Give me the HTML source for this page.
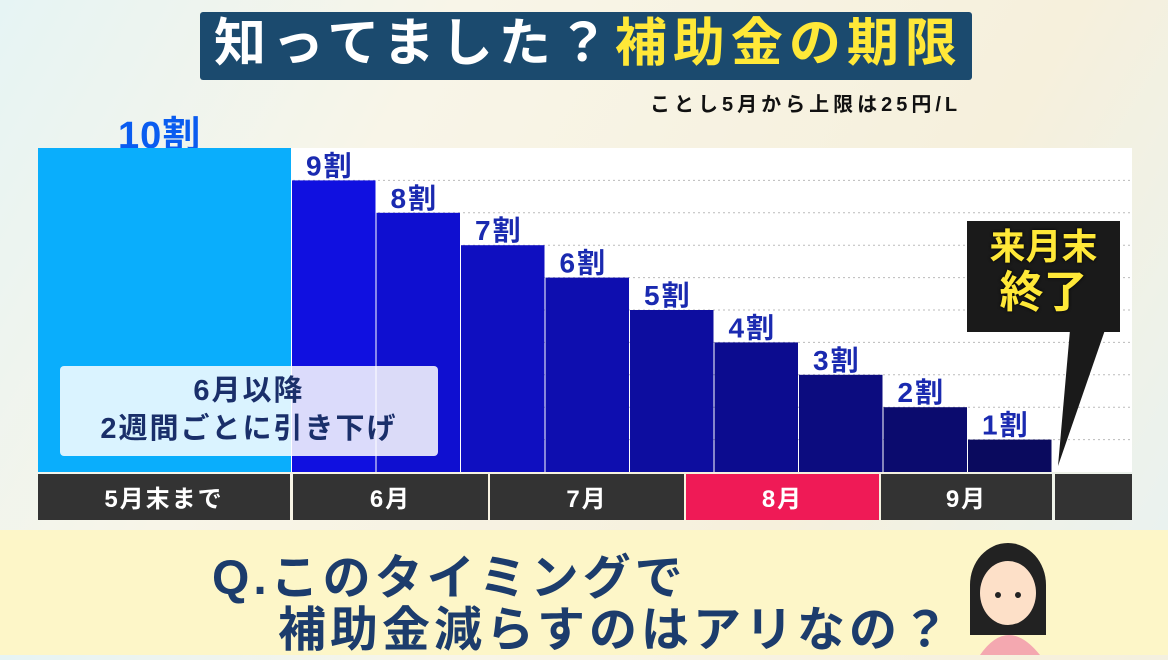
<!DOCTYPE html>
<html><head><meta charset="utf-8"><style>
body{margin:0;width:1168px;height:655px;overflow:hidden;font-family:"Liberation Sans","Noto Sans CJK JP",sans-serif;font-weight:bold;position:relative;background:linear-gradient(120deg,#e6f4f4 0%,#f8f5e8 30%,#f6f0dc 70%,#e8f3f3 100%)}
.a{position:absolute}
</style></head><body>
<div class="a" style="left:200px;top:12px;width:772px;height:68px;background:#1b4a6e;border-radius:3px"></div>
<div class="a" style="left:214px;top:12px;width:760px;height:64px;font-size:52px;line-height:64px;color:#fff;white-space:nowrap;letter-spacing:6px">知ってました？<span style="color:#ffe838">補助金の期限</span></div>
<div class="a" style="left:650px;top:88px;font-size:20px;color:#111;white-space:nowrap;letter-spacing:4px">ことし5月から上限は25円/L</div>
<div class="a" style="left:118px;top:104px;font-size:38px;color:#0a5cf0;letter-spacing:1px">10割</div>
<svg class="a" style="left:0;top:0" width="1168" height="530">
<rect x="38" y="148" width="1094" height="324" fill="#fff"/>
<g id="grid"></g><g id="bars"></g><g id="axis"></g>
</svg>
<div class="a" style="left:60px;top:366px;width:378px;height:90px;background:rgba(255,255,255,0.85);border-radius:4px;text-align:center;color:#1a2f6a;font-size:29px;line-height:38px;padding-top:6px;box-sizing:border-box;letter-spacing:2px">6月以降<br>2週間ごとに引き下げ</div>
<svg class="a" style="left:0;top:0" width="1168" height="530"><polygon points="1070,330 1105,330 1058,466" fill="#1a1a1a"/><rect x="967" y="221" width="153" height="111" fill="#1a1a1a"/></svg>
<div class="a" style="left:967px;top:224px;width:153px;text-align:center;color:#ffe838;font-size:36px;line-height:46px;text-shadow:0 0 3px #000">来月末<br><span style="font-size:44px">終了</span></div>
<div class="a" style="left:0;top:530px;width:1168px;height:125px;background:#fdf6c8"></div>
<div class="a" style="left:212px;top:538px;font-size:48px;color:#1c3c6c;white-space:nowrap;letter-spacing:4px">Q.このタイミングで</div>
<div class="a" style="left:278px;top:590px;font-size:48px;color:#1c3c6c;white-space:nowrap;letter-spacing:4px">補助金減らすのはアリなの？</div>
<svg class="a" style="left:960px;top:535px" width="100" height="120"><ellipse cx="48" cy="50" rx="38" ry="42" fill="#222"/><rect x="10" y="50" width="76" height="50" fill="#222"/><ellipse cx="48" cy="58" rx="28" ry="32" fill="#fde0c8"/><path d="M20 120 Q48 80 80 120Z" fill="#f4a8b0"/><circle cx="38" cy="60" r="3" fill="#222"/><circle cx="58" cy="60" r="3" fill="#222"/></svg>
<script>
const categories=["9割","8割","7割","6割","5割","4割","3割","2割","1割"];
const values=[9,8,7,6,5,4,3,2,1];
const mainValue=[10];
const months=["5月末まで","6月","7月","8月","9月",""];
const ns="http://www.w3.org/2000/svg";
const y0=472,unit=32.4;
function yScale(v){return y0-v*unit;}
function xScale(i){return 292+i*84.5;}
function mk(t,a,p){const e=document.createElementNS(ns,t);for(const k in a)e.setAttribute(k,a[k]);p.appendChild(e);return e;}
const bars=document.getElementById('bars'),grid=document.getElementById('grid'),axis=document.getElementById('axis');
const big=mk('rect',{x:38,y:yScale(mainValue[0]),width:253,height:y0-yScale(mainValue[0]),fill:'#0aaefc'},bars);


values.forEach((v,i)=>{
  const ln=mk('line',{x1:38,x2:1132,y1:yScale(v),y2:yScale(v),stroke:'#bbb','stroke-dasharray':'2,3'},grid);
  
  
  const t=i/(values.length-1);
  const r=Math.round(16-6*t),g=Math.round(16-6*t),b=Math.round(224-130*t);
  const rc=mk('rect',{x:xScale(i),y:yScale(v),width:83.5,height:y0-yScale(v),fill:`rgb(${r},${g},${b})`},bars);
  
  
  const tx=mk('text',{x:xScale(i)+14,y:yScale(v)-5,'font-size':28,fill:'#1a2ab0','font-weight':'bold','letter-spacing':2},bars);
  tx.textContent=categories[i];
  
  
});
const segs=[[38,290],[293,488],[490,684],[686,879],[881,1052],[1055,1132]];
months.forEach((m,i)=>{
  const s=segs[i];
  const r=mk('rect',{x:s[0],y:474,width:s[1]-s[0],height:46,fill:i==3?'#ef1a56':'#333'},axis);
  
  
  const t=mk('text',{x:(s[0]+s[1])/2,y:507,'font-size':24,fill:'#fff','text-anchor':'middle','font-weight':'bold','letter-spacing':2},axis);
  t.textContent=m;
  
  
});
</script>
</body></html>
